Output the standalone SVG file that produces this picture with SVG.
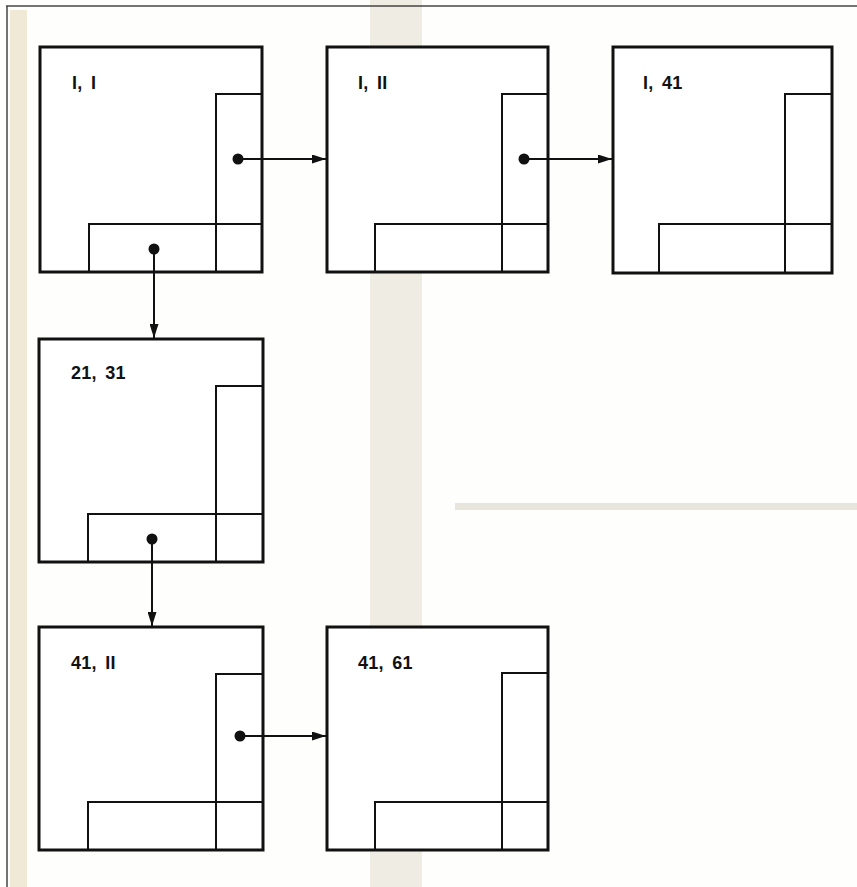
<svg xmlns="http://www.w3.org/2000/svg" width="857" height="887" viewBox="0 0 857 887">
<style>
.frame{fill:#fff;stroke:#111;stroke-width:3}
.inner{fill:none;stroke:#111;stroke-width:2}
.lbl{font-family:"Liberation Sans",Arial,sans-serif;font-weight:bold;font-size:18px;fill:#111;letter-spacing:0.3px;word-spacing:3px}
.conn{stroke:#111;stroke-width:2;fill:none}
.dot{fill:#111}
</style>
<defs>
<marker id="ah" viewBox="0 0 14 9" refX="14" refY="4.5" markerWidth="14" markerHeight="9" markerUnits="userSpaceOnUse" orient="auto">
<path d="M0,0 L14,4.5 L0,9 z" fill="#111"/>
</marker>
</defs>
<rect x="0" y="0" width="857" height="887" fill="#fefefc"/>
<g id="background">
<rect x="10" y="10" width="17" height="877" fill="#efe9d6"/>
<rect x="370" y="0" width="52" height="887" fill="#eeece3"/>
<rect x="455" y="503" width="402" height="7" fill="#e8e6dc"/>
<line x1="6" y1="6" x2="857" y2="6" stroke="#444" stroke-width="1.5"/>
<line x1="7" y1="6" x2="7" y2="887" stroke="#444" stroke-width="1.5"/>
</g>
<g id="n11">
<rect class="frame" x="40" y="47" width="222" height="225"/>
<path class="inner" d="M262,94 H216 V272 M89,272 V224 H262"/>
<text class="lbl" x="72" y="89">I, I</text>
</g>
<g id="n1_11">
<rect class="frame" x="327" y="47" width="221" height="225"/>
<path class="inner" d="M548,94 H502 V272 M375,272 V224 H548"/>
<text class="lbl" x="358" y="89">I, II</text>
</g>
<g id="n1_41">
<rect class="frame" x="613" y="47" width="219" height="226"/>
<path class="inner" d="M832,94 H785 V273 M659,273 V224 H832"/>
<text class="lbl" x="643" y="89">I, 41</text>
</g>
<g id="n21_31">
<rect class="frame" x="39" y="339" width="224" height="223"/>
<path class="inner" d="M263,386 H216 V562 M88,562 V514 H263"/>
<text class="lbl" x="71" y="379">21, 31</text>
</g>
<g id="n41_11">
<rect class="frame" x="39" y="627" width="224" height="223"/>
<path class="inner" d="M263,674 H216 V850 M88,850 V802 H263"/>
<text class="lbl" x="71" y="669">41, II</text>
</g>
<g id="n41_61">
<rect class="frame" x="327" y="627" width="221" height="223"/>
<path class="inner" d="M548,673 H502 V850 M375,850 V802 H548"/>
<text class="lbl" x="358" y="669">41, 61</text>
</g>
<g id="connectors">
<line class="conn" x1="238" y1="159" x2="326" y2="159" marker-end="url(#ah)"/>
<circle class="dot" cx="238" cy="159" r="5.5"/>
<line class="conn" x1="524" y1="159" x2="612" y2="159" marker-end="url(#ah)"/>
<circle class="dot" cx="524" cy="159" r="5.5"/>
<line class="conn" x1="154" y1="249" x2="154" y2="338" marker-end="url(#ah)"/>
<circle class="dot" cx="154" cy="249" r="5.5"/>
<line class="conn" x1="152" y1="539" x2="152" y2="626" marker-end="url(#ah)"/>
<circle class="dot" cx="152" cy="539" r="5.5"/>
<line class="conn" x1="240" y1="736" x2="326" y2="736" marker-end="url(#ah)"/>
<circle class="dot" cx="240" cy="736" r="5.5"/>
</g>
</svg>
